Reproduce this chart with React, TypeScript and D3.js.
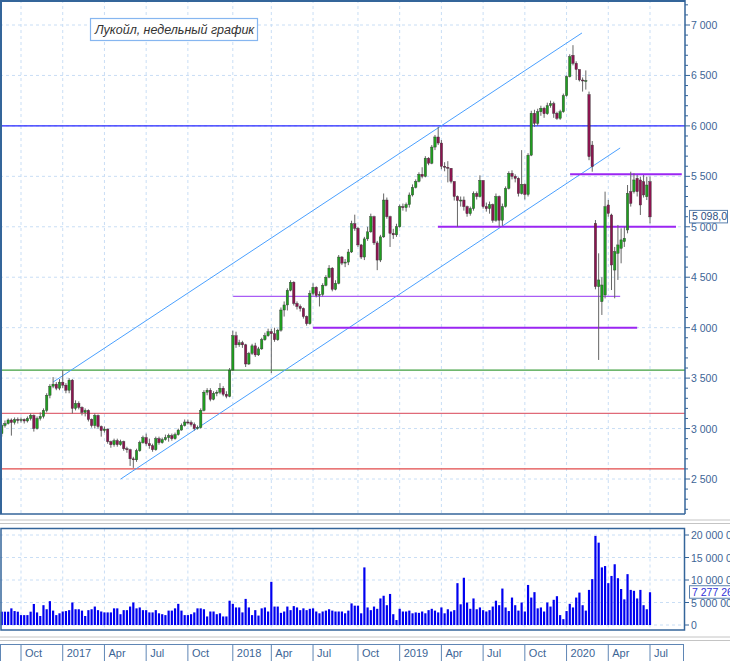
import React from 'react';
import * as d3 from 'd3';

const W = 730;
const H = 661;
const startDate = new Date(2016, 7, 15); // Monday of first weekly candle

const opens = [2950,3030,3050,3085,3060,3090,3080,3090,3075,3100,3130,3000,3100,3120,3180,3330,3420,3440,3400,3460,
3430,3380,3480,3200,3250,3210,3160,3180,3090,3030,3130,3020,2980,2995,2870,2840,2880,2840,2870,2800,
2790,2700,2690,2780,2860,2910,2850,2830,2790,2900,2860,2890,2910,2930,2900,2940,2985,3030,3065,3060,
3040,3000,3010,3180,3360,3380,3290,3350,3360,3400,3340,3320,3580,3920,3830,3850,3830,3640,3745,3820,
3730,3790,3880,3920,3960,3940,3880,3975,4175,4225,4370,4450,4240,4210,4190,4110,4040,4340,4400,4320,
4330,4420,4500,4590,4380,4440,4700,4640,4650,4750,5030,4985,4820,4700,4880,4950,5100,4840,4670,4900,
5265,5100,4935,4920,5000,5200,5190,5220,5315,5390,5450,5520,5500,5680,5630,5790,5890,5830,5600,5590,
5580,5450,5300,5260,5265,5200,5130,5180,5330,5300,5460,5200,5180,5220,5065,5300,5065,5200,5380,5530,
5500,5480,5330,5420,5320,5710,6125,6025,6140,6175,6120,6200,6220,6125,6075,6140,6300,6488,6700,6620,
6560,6455,6450,6310,5810,5034,4407,4258,4324,5216,5117,4571,4737,4786,4853,4968,5348,5348,5480,5464,
5447,5298,5447];

const highs = [3050,3080,3100,3100,3110,3110,3110,3100,3120,3150,3140,3120,3160,3200,3350,3440,3510,3460,3490,3580,
3450,3500,3490,3280,3270,3220,3200,3190,3100,3150,3140,3030,3020,3000,2880,2900,2900,2890,2880,2820,
2800,2720,2800,2880,2930,2950,2900,2850,2920,2920,2910,2940,2950,2950,2960,3000,3050,3090,3090,3080,
3060,3030,3200,3380,3400,3400,3370,3380,3450,3420,3370,3600,3970,3960,3880,3870,3840,3760,3840,3850,
3810,3900,3950,3990,3990,4000,3990,4200,4260,4390,4470,4460,4260,4230,4200,4120,4370,4440,4410,4360,
4440,4520,4620,4600,4470,4720,4710,4680,4780,5060,5120,5000,4830,4900,5000,5130,5110,4860,4920,5330,
5290,5110,4980,5030,5220,5230,5240,5340,5420,5470,5540,5590,5700,5690,5810,5910,5990,5860,5640,5650,
5580,5440,5310,5300,5300,5210,5200,5350,5350,5510,5450,5240,5250,5230,5330,5310,5230,5400,5550,5560,
5520,5490,5760,5430,5730,6150,6160,6170,6200,6190,6230,6250,6240,6140,6160,6320,6500,6710,6800,6640,
6520,6480,6550,6340,5850,5067,4737,4500,5348,5266,5130,4800,5018,4985,5001,5414,5546,5530,5513,5497,
5513,5497,5497];

const lows = [2920,3010,3040,2930,3040,3050,3060,3050,3060,3080,2970,2990,3080,3100,3160,3300,3400,3380,3380,3400,
3350,3350,3150,3180,3190,3130,3120,3070,3010,3000,3000,2920,2960,2850,2810,2820,2820,2830,2780,2760,
2630,2610,2670,2770,2850,2830,2800,2770,2780,2840,2850,2880,2870,2880,2890,2930,2980,3020,3040,3020,
2980,2990,3000,3170,3330,3270,3280,3320,3340,3320,3300,3310,3570,3800,3810,3800,3610,3630,3730,3710,
3720,3780,3870,3910,3550,3860,3870,3960,4110,4170,4360,4220,4180,4160,4090,4020,4030,4320,4300,4210,
4310,4410,4490,4360,4370,4430,4620,4600,4620,4740,4960,4800,4680,4670,4860,4940,4820,4570,4650,4890,
5080,4800,4880,4900,4990,5160,5150,5190,5300,5380,5440,5480,5490,5610,5620,5760,5810,5570,5550,5440,
5430,5260,5000,5200,5160,5100,5110,5160,5270,5290,5180,5150,5130,5040,5050,5000,5010,5190,5370,5470,
5440,5300,5320,5270,5300,5700,5990,6000,6100,6080,6110,6180,6080,6060,6060,6130,6290,6480,6600,6455,
6440,6340,6360,5660,5546,4380,3680,4126,4290,5100,4373,4291,4473,4638,4800,4935,5200,5330,5300,5117,
5290,5265,5034];

const closes = [3030,3050,3085,3060,3090,3080,3090,3075,3100,3130,3000,3100,3120,3180,3330,3420,3440,3400,3460,3430,
3380,3480,3200,3250,3210,3160,3180,3090,3030,3130,3020,2980,2995,2870,2840,2880,2840,2870,2800,2790,
2700,2690,2780,2860,2910,2850,2830,2790,2900,2860,2890,2910,2930,2900,2940,2985,3030,3065,3060,3040,
3000,3010,3180,3360,3380,3290,3350,3360,3400,3340,3320,3580,3920,3830,3850,3830,3640,3745,3820,3730,
3790,3880,3920,3960,3940,3880,3975,4175,4225,4370,4450,4240,4210,4190,4110,4040,4340,4400,4320,4330,
4420,4500,4590,4380,4440,4700,4640,4650,4750,5030,4985,4820,4700,4880,4950,5100,4840,4670,4900,5265,
5100,4935,4920,5000,5200,5190,5220,5315,5390,5450,5520,5500,5680,5630,5790,5890,5830,5600,5590,5580,
5450,5300,5260,5265,5200,5130,5180,5330,5300,5460,5200,5180,5220,5065,5300,5065,5200,5380,5530,5500,
5480,5330,5420,5320,5710,6125,6025,6140,6175,6120,6200,6220,6125,6075,6140,6300,6488,6686,6620,6560,
6455,6450,6450,5695,5596,4407,4473,4423,5200,5133,4621,4753,4820,4870,4886,5332,5232,5464,5348,5216,
5315,5414,5098];

// weekly volume, millions of shares
const volumesM = [2.96,2.96,2.96,3.7,3.1,2.96,2.2,2.2,2.2,2.96,4.67,2.8,2.0,4.4,3.5,5.3,3.2,2.2,2.6,3.0,
3.1,3.3,5.0,3.5,3.5,3.2,2.0,3.3,3.5,4.1,3.3,3.0,2.8,2.8,2.8,3.7,3.7,2.4,3.3,3.3,
4.1,5.0,3.7,3.9,3.3,3.3,2.8,2.8,3.3,2.6,2.4,2.2,3.2,3.2,3.7,4.7,3.2,2.2,2.2,2.4,
2.8,3.7,3.7,3.5,1.9,3.0,3.0,2.4,2.6,1.9,1.9,5.4,4.7,3.9,3.9,2.8,5.8,3.9,2.2,3.3,
2.1,3.7,3.9,3.0,9.6,4.1,4.1,2.7,3.0,4.1,3.3,4.2,3.9,3.3,3.7,3.3,3.6,3.7,3.0,2.6,
3.0,3.2,3.5,3.2,3.0,3.0,3.0,2.6,3.2,4.8,4.3,4.3,2.6,12.8,3.9,3.3,4.1,3.6,5.9,6.5,
4.4,6.9,2.4,1.1,3.6,3.0,3.0,3.2,2.6,2.8,2.7,3.0,2.6,3.3,3.6,3.2,2.8,3.9,2.6,3.5,
3.0,3.3,9.3,4.6,10.5,5.0,3.6,5.9,3.5,3.9,3.3,3.0,3.3,4.1,5.4,4.4,8.1,3.9,3.1,6.1,
4.4,3.2,5.0,3.0,8.9,6.1,7.3,3.7,3.9,3.0,5.0,4.1,5.6,6.4,2.2,1.3,3.1,4.7,3.9,6.1,
7.2,4.4,3.2,7.8,10.2,19.8,18.3,12.8,13.1,9.3,10.9,13.5,10.4,8.0,5.7,11.3,7.8,7.6,5.9,7.8,
4.4,3.5,7.28];

const priceTicks = d3.range(2500, 7001, 500);
const priceMinorTicks = d3.range(2200, 7201, 100);
const volumeTicks = [0, 5e6, 10e6, 15e6, 20e6];
const monthNames = ['Jan','Feb','Mar','Apr','May','Jun','Jul','Aug','Sep','Oct','Nov','Dec'];
const lastVolumeLabel = '7 277 265';

const fullLevels = [
  { price: 6000, color: '#2424ff' },
  { price: 3580, color: '#3f9f3f' },
  { price: 3150, color: '#e06a78' },
  { price: 2600, color: '#e24a4a' },
];
const partLevels = [
  { price: 5520, from: 177.1, to: 211.9, width: 2, color: '#9b26f2' },
  { price: 5000, from: 135.9, to: 210.1, width: 2, color: '#9b26f2' },
  { price: 4310, from: 72.1, to: 192.7, width: 1.2, color: '#a95cf5' },
  { price: 4000, from: 97.0, to: 198.0, width: 2, color: '#9b26f2' },
];
const channelLines = [
  { i0: 16.0, p0: 3461, i1: 180.8, p1: 6921 },
  { i0: 37.07, p0: 2500, i1: 192.7, p1: 5781 },
];

const fmtSpace = (v: number) => d3.format(',')(v).replace(/,/g, ' ');

export default function App() {
  const n = closes.length;
  const x = d3.scaleLinear().domain([0, n - 1]).range([1.75, 650]);
  const yP = d3.scaleLinear().domain([2500, 7000]).range([479, 25]);
  const yV = d3.scaleLinear().domain([0, 20e6]).range([625, 535]);

  const mainR = 685;
  const mainB = 514;
  const volT = 528.5;
  const volB = 630;

  // quarter ticks: week containing the 1st day of Jan/Apr/Jul/Oct
  const ticks: { i: number; label: string }[] = [];
  for (let i = 0; i < n + 12; i++) {
    const d = d3.timeDay.offset(startDate, 7 * i);
    for (let k = 0; k < 7; k++) {
      const dd = d3.timeDay.offset(d, k);
      if (dd.getDate() === 1 && dd.getMonth() % 3 === 0) {
        const label = dd.getMonth() === 0 ? String(dd.getFullYear()) : monthNames[dd.getMonth()];
        if (x(i) < mainR - 2) ticks.push({ i, label });
      }
    }
  }

  const gridColor = '#c9def5';
  const axisColor = '#34659a';
  const textColor = '#3d6596';
  const font = '"Liberation Sans", Arial, sans-serif';
  const bw = 2.4;
  const fs = 10.5;

  const last = closes[n - 1];

  return (
    <svg width={W} height={H} style={{ position: 'absolute', left: 0, top: 0, background: '#fff' }} fontFamily={font}>
      <defs>
        <clipPath id="mainClip"><rect x={0} y={0} width={mainR} height={mainB} /></clipPath>
        <clipPath id="volClip"><rect x={0} y={volT} width={mainR} height={volB - volT} /></clipPath>
      </defs>
      <rect x={0} y={0} width={W} height={H} fill="#fff" />

      {/* main grid */}
      <g clipPath="url(#mainClip)">
        {priceTicks.map((p) => (
          <line key={'gh' + p} x1={0} x2={mainR} y1={yP(p)} y2={yP(p)} stroke={gridColor} strokeDasharray="3,3" />
        ))}
        {ticks.map((t) => (
          <line key={'gv' + t.i} x1={x(t.i)} x2={x(t.i)} y1={0} y2={mainB} stroke={gridColor} strokeDasharray="3,3" />
        ))}
        {fullLevels.map((l) => (
          <line key={'fl' + l.price} x1={0} x2={mainR} y1={yP(l.price)} y2={yP(l.price)} stroke={l.color} strokeWidth={1.2} />
        ))}
        {channelLines.map((c, k) => (
          <line key={'ch' + k} x1={x(c.i0)} y1={yP(c.p0)} x2={x(c.i1)} y2={yP(c.p1)} stroke="#4aa0ff" strokeWidth={1} />
        ))}
        {partLevels.map((l) => (
          <line key={'pl' + l.price} x1={x(l.from)} x2={x(l.to)} y1={yP(l.price)} y2={yP(l.price)} stroke={l.color} strokeWidth={l.width} />
        ))}
        {closes.map((c, i) => {
          const o = opens[i];
          const up = c >= o;
          const top = yP(Math.max(o, c));
          const bot = yP(Math.min(o, c));
          return (
            <g key={'c' + i}>
              <line x1={x(i)} x2={x(i)} y1={yP(highs[i])} y2={yP(lows[i])} stroke="#666" strokeWidth={1} />
              <rect x={x(i) - bw / 2} y={top} width={bw} height={Math.max(1, bot - top)}
                fill={up ? '#1f9e1f' : '#8c1450'} stroke="#333" strokeWidth={0.4} />
            </g>
          );
        })}
      </g>

      {/* title */}
      <rect x={90.5} y={18.5} width={167} height={22} fill="#fff" stroke="#86b6f0" strokeWidth={1.2} />
      <text x={95} y={34} fontSize={12.5} fontStyle="italic" fill="#333">Лукойл, недельный график</text>

      {/* main frame */}
      <line x1={1} x2={1} y1={0} y2={mainB} stroke={axisColor} strokeWidth={2} />
      <line x1={0} x2={mainR} y1={1} y2={1} stroke={axisColor} strokeWidth={2} />
      <line x1={0} x2={mainR} y1={mainB} y2={mainB} stroke={axisColor} strokeWidth={1.5} />
      <line x1={mainR} x2={mainR} y1={0} y2={mainB} stroke={axisColor} strokeWidth={1.5} />

      {/* price axis */}
      {priceMinorTicks.filter((p) => yP(p) > 2 && yP(p) < mainB - 2).map((p) => (
        <line key={'mt' + p} x1={mainR} x2={mainR + (p % 500 === 0 ? 5 : 3)} y1={yP(p)} y2={yP(p)} stroke={axisColor} />
      ))}
      {priceTicks.map((p) => (
        <text key={'pt' + p} x={691} y={yP(p) + 4} fontSize={fs} fill={textColor}>{fmtSpace(p)}</text>
      ))}
      <rect x={689.5} y={yP(last) - 6.5} width={38} height={12.5} fill="#fff" stroke="#5a80ad" />
      <text x={692} y={yP(last) + 3.5} fontSize={fs} fill="#2d4f7f">{fmtSpace(Math.floor(last)) + ',0'}</text>

      {/* separators */}
      {[520, 523.5, 637, 640.5].map((yy) => (
        <line key={'sep' + yy} x1={0} x2={W} y1={yy} y2={yy} stroke="#c4c4c4" strokeWidth={1} />
      ))}

      {/* volume panel */}
      <g clipPath="url(#volClip)">
        {volumeTicks.map((v) => (
          <line key={'vg' + v} x1={0} x2={mainR} y1={yV(v)} y2={yV(v)} stroke={gridColor} strokeDasharray="3,3" />
        ))}
        {ticks.map((t) => (
          <line key={'vgv' + t.i} x1={x(t.i)} x2={x(t.i)} y1={volT} y2={volB} stroke={gridColor} strokeDasharray="3,3" />
        ))}
        {volumesM.map((v, i) => (
          <rect key={'v' + i} x={x(i) - 1.1} y={yV(v * 1e6)} width={2.2} height={yV(0) - yV(v * 1e6)} fill="#0000f0" />
        ))}
      </g>
      <rect x={1} y={volT} width={mainR - 1.5} height={volB - volT} fill="none" stroke={axisColor} strokeWidth={1.5} />
      {volumeTicks.map((v) => (
        <g key={'vt' + v}>
          <line x1={mainR - 1} x2={mainR + 4} y1={yV(v)} y2={yV(v)} stroke={axisColor} />
          <text x={691} y={yV(v) + 4} fontSize={fs} fill={textColor}>{fmtSpace(v)}</text>
        </g>
      ))}
      <rect x={689.5} y={yV(volumesM[n - 1] * 1e6) - 6.5} width={48} height={12.5} fill="#fff" stroke="#5a80ad" />
      <text x={692} y={yV(volumesM[n - 1] * 1e6) + 3.5} fontSize={fs} fill="#3232d8">{lastVolumeLabel}</text>

      {/* time axis */}
      <rect x={0.5} y={644.5} width={683} height={17} fill="#fff" stroke="#5f86b5" />
      {ticks.map((t) => (
        <g key={'tt' + t.i}>
          <line x1={x(t.i)} x2={x(t.i)} y1={644.5} y2={661} stroke="#5f86b5" />
          <text x={x(t.i) + 4} y={657} fontSize={11} fill={textColor}>{t.label}</text>
        </g>
      ))}
    </svg>
  );
}
